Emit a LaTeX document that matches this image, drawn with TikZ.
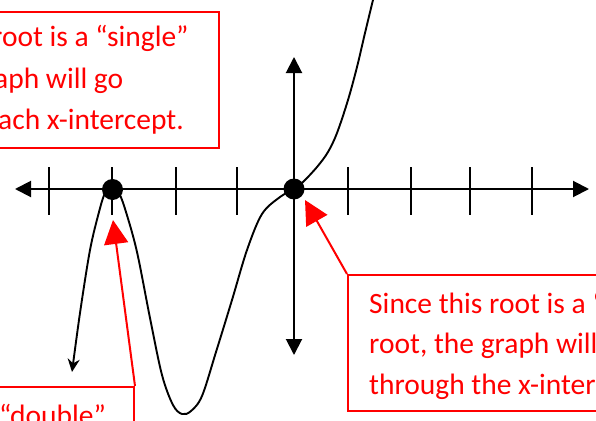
\documentclass[tikz,border=0pt]{standalone}
\usepackage{fontspec}
\setmainfont{Carlito}
\usetikzlibrary{arrows.meta}
\begin{document}
\begin{tikzpicture}[x=1pt,y=-1pt,
  axis/.style={line width=2pt, draw=black, {Triangle[length=16pt,width=16pt]}-{Triangle[length=16pt,width=16pt]}},
  tickmark/.style={line width=2pt, draw=black},
  curve/.style={line width=1.9pt, draw=black, -{Stealth[length=13pt,width=12pt]}},
  dot/.style={circle, fill=black, inner sep=0pt, minimum size=21pt},
  redbox/.style={draw=red, line width=2pt, inner sep=0pt, anchor=north west},
  redarrow/.style={draw=red, line width=2pt, -{Triangle[length=24pt,width=24pt]}},
  txt/.style={text=red, font=\fontsize{29.5}{41}\selectfont, inner sep=0pt, anchor=base west}]
\useasboundingbox (0,0) rectangle (596,420);
\clip (0,0) rectangle (596,420);

% axes
\coordinate (xl) at (15,189);
\coordinate (xr) at (589,189);
\coordinate (yt) at (294,57);
\coordinate (yb) at (294,355);
\draw[axis] (xl) -- (xr);
\draw[axis] (yt) -- (yb);

% ticks
\foreach \x in {49,112,176,237,348,411,470,532}
  \draw[tickmark] (\x,167) -- (\x,215);

% curve
\draw[curve] plot[smooth, tension=0.55] coordinates {
  (377,-15) (373,0) (365,33) (357,67) (348,100) (337,133) (328,152)
  (317,167) (303,182) (294,189) (280,197) (262,214) (247,250) (232,300)
  (216,352) (202,396) (191,411) (182,414) (173,405) (162,375) (150,318)
  (137,252) (126,212) (119,193) (112,186) (105,193) (99,212) (90,250)
  (80,313) (72,372)};

% roots
\node[dot] (r1) at (112.5,189.5) {};
\node[dot] (r2) at (294,189) {};

% box 1 (top left)
\node[redbox, minimum width=240pt, minimum height=136pt] (box1) at (-22,11) {};
\node[txt] (b1l1) at (-8,47) {root is a “single”};
\node[txt] (b1l2) at (-6,88) {aph will go};
\node[txt] (b1l3) at (-2,129) {ach x-intercept.};

% box 2 (bottom right)
\node[redbox, minimum width=280pt, minimum height=136pt] (box2) at (347,274) {};
\node[txt] (b2l1) at (369,313) {Since this root is a “};
\node[txt] (b2l2) at (369,353.5) {root, the graph will};
\node[txt] (b2l3) at (369,394) {through the x-inter};
\coordinate (tip2) at (305,200);
\draw[redarrow] (box2.north west) -- (tip2);

% box 3 (bottom left)
\node[redbox, minimum width=160pt, minimum height=80pt] (box3) at (-27,386) {};
\node[txt] (b3l1) at (-1,425) {“double”};
\coordinate (tip3) at (113,220);
\draw[redarrow] (box3.north east) -- (tip3);
\end{tikzpicture}
\end{document}
